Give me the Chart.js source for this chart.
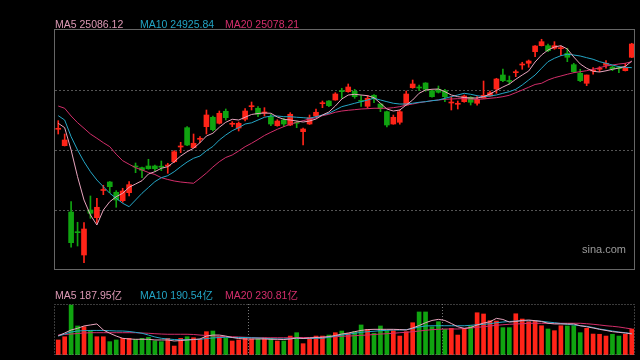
<!DOCTYPE html>
<html><head><meta charset="utf-8">
<script src="https://cdn.jsdelivr.net/npm/chart.js@4.4.1/dist/chart.umd.min.js"></script>
<style>
html,body{margin:0;padding:0;background:#000;width:640px;height:360px;overflow:hidden;}
canvas{position:absolute;left:0;}
#main{top:0;width:640px;height:280px;}
#vol{top:280px;width:640px;height:80px;}
.lg{position:absolute;font-family:"Liberation Sans",Arial,"Noto Sans CJK SC",sans-serif;font-size:10.5px;line-height:12px;white-space:nowrap;}
</style></head><body>
<canvas id="main" width="640" height="280"></canvas>
<canvas id="vol" width="640" height="80"></canvas>
<div class="lg" style="left:55px;top:18px;color:#dc98b4">MA5 25086.12</div>
<div class="lg" style="left:140px;top:18px;color:#22a4c4">MA10 24925.84</div>
<div class="lg" style="left:225px;top:18px;color:#d42e6c">MA20 25078.21</div>
<div class="lg" style="left:55px;top:289px;color:#dc98b4">MA5 187.95亿</div>
<div class="lg" style="left:140px;top:289px;color:#22a4c4">MA10 190.54亿</div>
<div class="lg" style="left:225px;top:289px;color:#d42e6c">MA20 230.81亿</div>
<div class="lg" style="left:582px;top:243px;color:#9a9a9a;font-size:11px">sina.com</div>
<script>
const days = Array.from({length: 90}, (_, i) => String(i + 1));
const open = [23378,22968,21310,20818,20235,21360,21168,21848,22060,21803,
21593,21793,22460,22418,22460,22460,22453,22460,22568,22935,
23418,22918,23128,23443,23678,23528,23828,23503,23410,23628,
23943,23903,23785,23693,23468,23610,23485,23553,23318,23510,
23710,24018,24085,24110,24343,24318,24328,24098,23953,24228,
24010,23818,23510,23553,23985,24418,24428,24535,24343,24378,
24343,24035,24003,24068,24178,24028,24160,24210,24385,24735,
24593,24793,24985,25028,25318,25468,25468,25403,25393,25278,
24993,24778,24528,24835,24878,24978,24935,24910,24843,25178];
const high = [23593,23260,21568,21053,21043,21710,21653,21978,22073,21843,
21903,22068,22535,22435,22628,22485,22585,22528,22843,23053,
23443,23260,23193,23860,23710,23835,23885,23568,23560,23893,
24060,23943,23918,23753,23618,23653,23793,23585,23410,23735,
23885,24085,24093,24293,24403,24510,24378,24218,24223,24243,
24023,23835,23735,23860,24335,24610,24485,24543,24353,24460,
24378,24193,24085,24235,24193,24193,24585,24335,24653,24885,
24710,24860,25053,25110,25473,25628,25510,25568,25460,25403,
25028,24878,24735,24918,24943,25093,24960,24943,25028,25528];
const low = [23260,22960,20428,20460,20043,21153,21028,21743,21793,21428,
21553,21710,22293,22168,22378,22335,22343,22278,22543,22793,
22968,22910,23043,23260,23335,23510,23610,23443,23335,23585,
23860,23693,23710,23468,23453,23443,23468,23418,22985,23498,
23693,23918,23943,24103,24153,24303,24153,23948,23903,24043,
23818,23435,23503,23505,23978,24403,24343,24328,24178,24285,
24068,23860,23885,24053,23985,23978,24153,24203,24278,24568,
24510,24693,24878,24928,25193,25460,25318,25378,25218,25068,
24793,24568,24468,24753,24818,24903,24843,24793,24835,25168];
const close = [23403,23110,20543,20793,20885,21278,21428,21868,21943,21610,
21835,21993,22435,22353,22393,22393,22430,22478,22818,22953,
22985,23028,23143,23735,23368,23778,23668,23518,23528,23835,
23960,23753,23803,23510,23585,23510,23753,23528,23385,23668,
23803,24035,23968,24260,24318,24435,24193,24078,24153,24153,
23898,23485,23678,23818,24260,24510,24410,24378,24193,24303,
24193,24053,24018,24210,24053,24128,24228,24293,24635,24593,
24573,24810,25003,25085,25460,25568,25343,25468,25410,25178,
24818,24593,24735,24853,24893,25028,24885,24893,24918,25510];
const ma5 = [23528,23418,22860,22193,21610,21235,20985,21360,21568,21693,
21778,21928,22010,22093,22260,22318,22403,22443,22568,22710,
22818,22903,23043,23210,23278,23428,23553,23628,23610,23678,
23748,23773,23785,23778,23685,23628,23610,23585,23560,23585,
23635,23735,23810,23960,24135,24235,24253,24235,24218,24168,
24028,23885,23835,23860,23985,24110,24278,24360,24378,24385,
24318,24235,24193,24173,24160,24160,24193,24260,24348,24435,
24510,24628,24735,24835,25060,25235,25360,25435,25468,25385,
25185,25010,24903,24828,24810,24840,24878,24910,24948,25085];
const ma10 = [23718,23610,23193,22860,22568,22318,22110,21943,21778,21653,
21528,21443,21610,21778,21923,22068,22168,22218,22318,22443,
22560,22653,22710,22843,22948,23110,23235,23343,23418,23510,
23540,23610,23678,23710,23710,23693,23693,23678,23668,23653,
23693,23735,23778,23860,23943,23985,24028,24068,24110,24153,
24110,24068,24028,24010,24010,24028,24053,24068,24093,24110,
24153,24193,24235,24278,24253,24218,24193,24210,24235,24278,
24318,24378,24485,24610,24735,24903,25068,25153,25218,25253,
25235,25210,25168,25128,25068,25028,24985,24943,24928,24918];
const ma20 = [23960,23903,23710,23543,23403,23260,23153,23043,22943,22753,
22593,22503,22418,22360,22298,22248,22168,22123,22085,22060,
22043,22028,22153,22285,22435,22568,22673,22735,22835,22943,
23028,23123,23223,23303,23378,23443,23503,23553,23593,23635,
23668,23718,23753,23803,23835,23853,23868,23885,23893,23903,
23903,23903,23918,23943,23985,24010,24043,24068,24093,24110,
24128,24135,24143,24143,24135,24128,24135,24153,24168,24193,
24228,24293,24360,24428,24498,24528,24610,24668,24710,24753,
24793,24818,24843,24878,24918,24960,24985,25010,25028,25068];
const volume = [134,163,446,259,252,217,163,163,119,134,
149,149,140,149,158,125,119,149,80,149,
163,154,140,208,214,163,149,125,134,149,
143,143,154,149,125,125,169,199,101,149,
169,169,178,199,214,194,208,268,229,194,
259,217,217,169,208,288,384,384,252,297,
229,238,178,238,259,377,366,306,303,244,
244,368,321,297,303,261,232,217,261,259,
261,199,238,187,185,169,185,169,185,232];
const vma5 = [172,196,223,238,259,268,277,223,194,169,
149,143,140,140,140,134,134,134,125,129,
134,138,143,169,178,178,169,156,147,143,
143,143,143,140,140,138,143,152,147,152,
156,158,165,174,187,196,208,219,227,229,
229,229,229,227,223,241,263,288,308,318,
308,281,252,238,245,268,285,297,327,317,
294,299,308,312,306,299,283,277,277,277,
277,261,252,241,229,219,208,202,196,188];
const vma10 = [169,187,205,214,217,219,219,219,217,214,
214,210,202,194,178,161,149,143,138,136,
136,138,140,147,152,156,158,156,156,156,
154,152,149,145,143,143,145,149,147,147,
149,149,158,169,178,185,194,202,208,212,
217,220,223,223,226,236,250,259,261,261,
261,261,261,261,265,270,274,279,288,294,
299,303,306,306,306,301,294,288,281,274,
268,261,256,245,232,223,214,205,199,191];
const vma20 = [178,183,187,192,196,199,199,199,199,199,
199,199,199,196,194,190,187,185,185,185,
185,183,178,174,169,167,163,163,161,158,
156,154,154,154,154,154,154,156,156,156,
158,158,161,163,167,169,172,176,178,183,
187,190,194,199,202,208,214,220,226,229,
232,232,232,236,241,247,252,259,265,270,
274,277,279,283,283,283,283,283,283,283,
283,283,279,274,268,261,256,250,241,232];
const gridLevels = [21360, 22860, 24360];
const monthStarts = [30, 60];

const UP = '#ff2418', DOWN = '#10a410';
const C5 = '#e8a4bd', C10 = '#24a6c6', C20 = '#d22e6a';
const dirColors = close.map((c, i) => c >= open[i] ? UP : DOWN);

const mainFrame = {
  id: 'mainFrame',
  beforeDatasetsDraw(chart) {
    const {ctx, chartArea: a, scales: {y}} = chart;
    ctx.save();
    ctx.strokeStyle = '#555';
    ctx.lineWidth = 1;
    ctx.setLineDash([2, 2]);
    gridLevels.forEach(v => {
      const py = Math.round(y.getPixelForValue(v)) + 0.5;
      ctx.beginPath(); ctx.moveTo(a.left, py); ctx.lineTo(a.right, py); ctx.stroke();
    });
    ctx.restore();
  },
  afterDatasetsDraw(chart) {
    const {ctx, chartArea: a} = chart;
    ctx.save();
    ctx.strokeStyle = '#666';
    ctx.lineWidth = 1;
    ctx.strokeRect(a.left - 0.5, a.top - 0.5, a.right - a.left, a.bottom - a.top);
    ctx.restore();
  }
};

const volFrame = {
  id: 'volFrame',
  beforeDatasetsDraw(chart) {
    const {ctx, chartArea: a, scales: {x}} = chart;
    ctx.save();
    ctx.strokeStyle = '#777';
    ctx.lineWidth = 1;
    ctx.setLineDash([1, 2]);
    monthStarts.forEach(i => {
      const px = Math.round((x.getPixelForValue(i - 1) + x.getPixelForValue(i)) / 2) + 0.5;
      ctx.beginPath(); ctx.moveTo(px, a.top); ctx.lineTo(px, a.bottom); ctx.stroke();
    });
    ctx.restore();
  },
  afterDatasetsDraw(chart) {
    const {ctx, chartArea: a} = chart;
    ctx.save();
    ctx.strokeStyle = '#777';
    ctx.lineWidth = 1;
    ctx.setLineDash([1, 2]);
    ctx.strokeRect(a.left - 0.5, a.top + 0.5, a.right - a.left, a.bottom - a.top - 1);
    ctx.restore();
  }
};

const lineDs = (label, data, color) => ({
  type: 'line', label, data, borderColor: color, borderWidth: 1,
  pointRadius: 0, tension: 0, fill: false, order: 0
});

new Chart(document.getElementById('main'), {
  data: {
    labels: days,
    datasets: [
      lineDs('MA5', ma5, C5),
      lineDs('MA10', ma10, C10),
      lineDs('MA20', ma20, C20),
      {type: 'bar', label: 'body', data: open.map((o, i) => [o, close[i]]),
       backgroundColor: dirColors, barThickness: 5, grouped: false, minBarLength: 1, order: 2},
      {type: 'bar', label: 'wick', data: low.map((l, i) => [l, high[i]]),
       backgroundColor: dirColors, barThickness: 1, grouped: false, order: 3}
    ]
  },
  options: {
    responsive: false, animation: false, devicePixelRatio: 1,
    layout: {padding: {left: 55, right: 5, top: 30, bottom: 10}},
    plugins: {legend: {display: false}, tooltip: {enabled: false}},
    scales: {
      x: {type: 'category', display: false, offset: true},
      y: {type: 'linear', display: false, min: 19860, max: 25860}
    }
  },
  plugins: [mainFrame]
});

new Chart(document.getElementById('vol'), {
  data: {
    labels: days,
    datasets: [
      lineDs('VMA5', vma5, C5),
      lineDs('VMA10', vma10, C10),
      lineDs('VMA20', vma20, C20),
      {type: 'bar', label: 'volume', data: volume, backgroundColor: dirColors,
       barThickness: 4, grouped: false, order: 2}
    ]
  },
  options: {
    responsive: false, animation: false, devicePixelRatio: 1,
    layout: {padding: {left: 55, right: 5, top: 24, bottom: 5}},
    plugins: {legend: {display: false}, tooltip: {enabled: false}},
    scales: {
      x: {type: 'category', display: false, offset: true},
      y: {type: 'linear', display: false, min: 0, max: 455}
    }
  },
  plugins: [volFrame]
});
</script>
</body></html>
